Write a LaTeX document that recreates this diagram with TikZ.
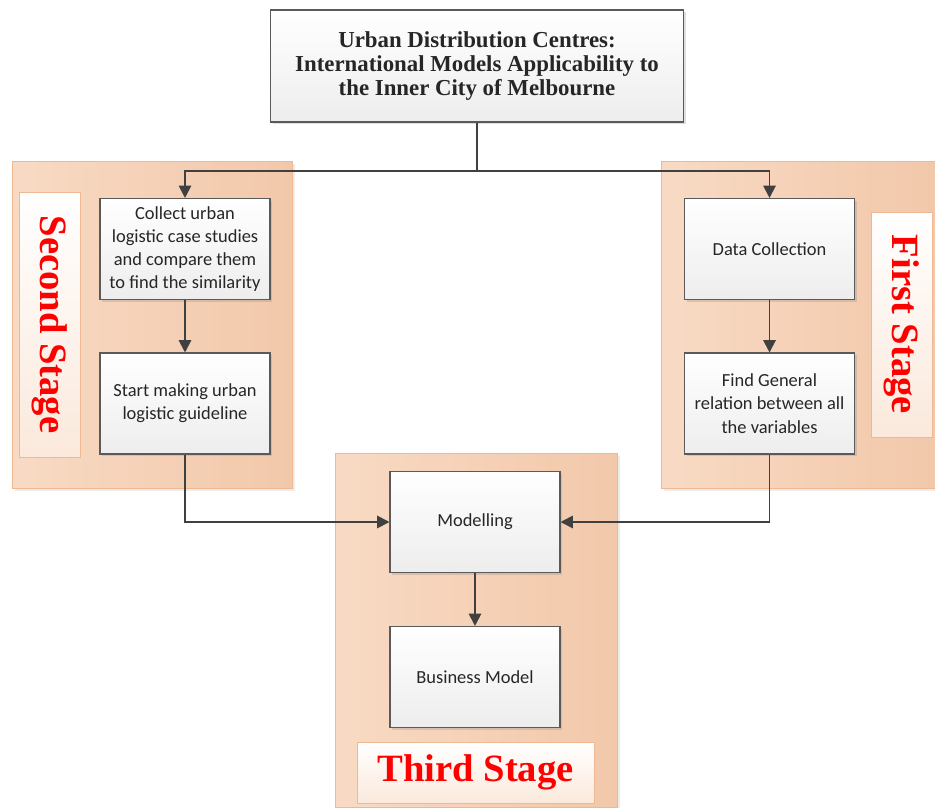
\documentclass[tikz,border=0pt]{standalone}
\usepackage{fontspec}
\setmainfont{Carlito}
\newfontfamily\serifbold{Liberation Serif}
\usepackage{xcolor}
\definecolor{udc-line}{HTML}{404040}
\definecolor{udc-border}{HTML}{5A5A5A}
\definecolor{udc-peach}{HTML}{F8DAC4}
\definecolor{udc-peachdark}{HTML}{F2C8AA}
\definecolor{udc-peachline}{HTML}{EDB892}
\definecolor{udc-red}{HTML}{FF0000}
\usepackage{tikz}
\usetikzlibrary{calc,positioning,arrows.meta,shadows}

\begin{document}
\begin{tikzpicture}[
  x=0.02cm, y=-0.02cm,
  font=\fontsize{10.5}{13.2}\selectfont,
  every node/.style={align=center},
  block/.style={rectangle, draw=udc-border, line width=0.6pt, top color=white, bottom color=black!7, minimum width=3.4cm, minimum height=2.02cm, inner sep=3pt, text=black!85, drop shadow={shadow xshift=1.2pt, shadow yshift=-1.2pt, opacity=0.25}},
  headbox/.style={block, minimum width=8.26cm, minimum height=2.24cm, font=\serifbold\bfseries\fontsize{13}{13.9}\selectfont},
  panel/.style={rectangle, draw=udc-peachline, line width=0.5pt, left color=udc-peach, right color=udc-peachdark, drop shadow={shadow xshift=1.5pt, shadow yshift=-1.5pt, opacity=0.15}},
  stage/.style={rectangle, draw=udc-peachline, line width=0.5pt, top color=white, bottom color=udc-peach!60!white, text=udc-red, font=\serifbold\bfseries\fontsize{22}{24}\selectfont, inner sep=0pt},
  arrow/.style={-{Triangle[length=7pt, width=7pt]}, line width=1.1pt, udc-line}
]
  \useasboundingbox (0,0) rectangle (935,807);

  % stage panels
  \node[panel, minimum width=5.6cm, minimum height=6.54cm] (leftpanel) at (152,324.5) {};
  \node[panel, minimum width=5.48cm, minimum height=6.54cm] (rightpanel) at (798,324.5) {};
  \node[panel, minimum width=5.64cm, minimum height=7.08cm] (midpanel) at (476,630) {};

  \node[stage, rotate=-90, minimum width=5.3cm, minimum height=1.22cm] (second) at (49.5,324.5) {Second Stage};
  \node[stage, rotate=-90, minimum width=4.5cm, minimum height=1.22cm] (first) at (901.5,324.5) {First Stage};
  \node[stage, minimum width=4.74cm, minimum height=1.22cm] (third) at (475.5,772.5) {Third Stage};

  % boxes
  \node[headbox] (title) at (477,66) {Urban Distribution Centres:\\International Models Applicability to\\the Inner City of Melbourne};
  \node[block] (collect) at (185,249) {Collect urban\\logistic case studies\\and compare them\\to find the similarity};
  \node[block] (guide) at (185,403.5) {Start making urban\\logistic guideline};
  \node[block] (data) at (769.5,249) {Data Collection};
  \node[block] (relation) at (769.5,403.5) {Find General\\relation between all\\the variables};
  \node[block] (model) at (475,522) {Modelling};
  \node[block] (business) at (475,677) {Business Model};

  \coordinate (split) at (477,171);

  \draw[line width=1.1pt, udc-line] (title.south) -- (split);
  \foreach \t in {collect, data} {
    \draw[arrow] (split) -| (\t.north);
  }
  \draw[arrow] (collect) -- (guide);
  \draw[arrow] (data) -- (relation);
  \draw[arrow] (guide.south) |- (model.west);
  \draw[arrow] (relation.south) |- (model.east);
  \draw[arrow] (model) -- (business);
\end{tikzpicture}
\end{document}
